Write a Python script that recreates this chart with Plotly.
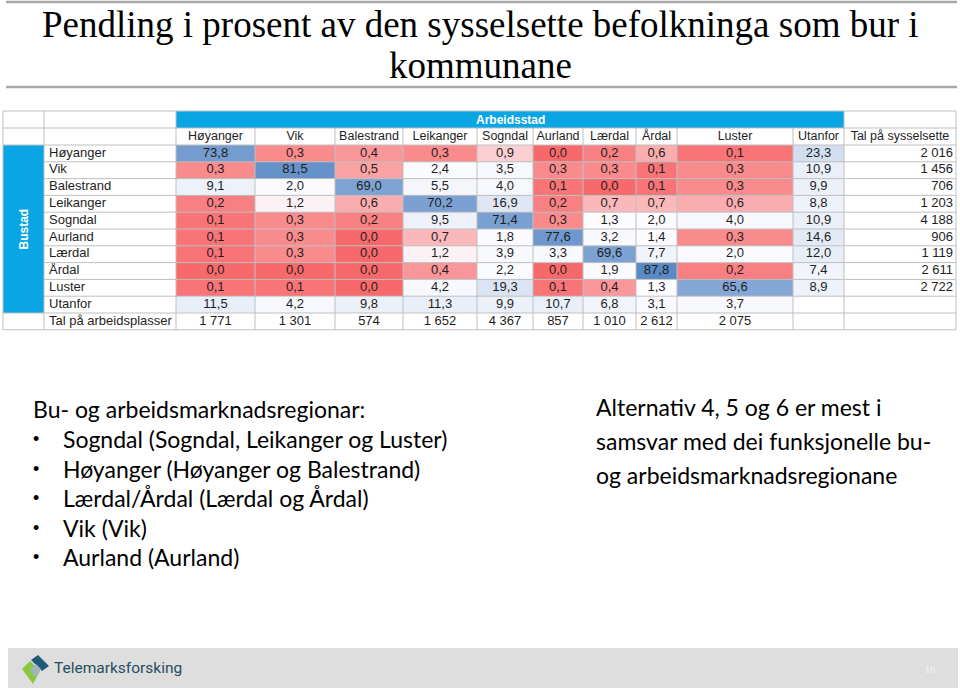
import plotly.graph_objects as go
import numpy as np

# ---------------- data ----------------
arbeidsstad = ["Høyanger", "Vik", "Balestrand", "Leikanger", "Sogndal", "Aurland",
               "Lærdal", "Årdal", "Luster", "Utanfor"]
bustad = ["Høyanger", "Vik", "Balestrand", "Leikanger", "Sogndal", "Aurland",
          "Lærdal", "Årdal", "Luster", "Utanfor"]
row_hoyanger = [73.8, 0.3, 0.4, 0.3, 0.9, 0.0, 0.2, 0.6, 0.1, 23.3]
row_vik = [0.3, 81.5, 0.5, 2.4, 3.5, 0.3, 0.3, 0.1, 0.3, 10.9]
row_balestrand = [9.1, 2.0, 69.0, 5.5, 4.0, 0.1, 0.0, 0.1, 0.3, 9.9]
row_leikanger = [0.2, 1.2, 0.6, 70.2, 16.9, 0.2, 0.7, 0.7, 0.6, 8.8]
row_sogndal = [0.1, 0.3, 0.2, 9.5, 71.4, 0.3, 1.3, 2.0, 4.0, 10.9]
row_aurland = [0.1, 0.3, 0.0, 0.7, 1.8, 77.6, 3.2, 1.4, 0.3, 14.6]
row_laerdal = [0.1, 0.3, 0.0, 1.2, 3.9, 3.3, 69.6, 7.7, 2.0, 12.0]
row_ardal = [0.0, 0.0, 0.0, 0.4, 2.2, 0.0, 1.9, 87.8, 0.2, 7.4]
row_luster = [0.1, 0.1, 0.0, 4.2, 19.3, 0.1, 0.4, 1.3, 65.6, 8.9]
row_utanfor = [11.5, 4.2, 9.8, 11.3, 9.9, 10.7, 6.8, 3.1, 3.7, None]
tal_sysselsette = [2016, 1456, 706, 1203, 4188, 906, 1119, 2611, 2722]
tal_arbeidsplassar = [1771, 1301, 574, 1652, 4367, 857, 1010, 2612, 2075]

pendling = [row_hoyanger, row_vik, row_balestrand, row_leikanger, row_sogndal,
            row_aurland, row_laerdal, row_ardal, row_luster, row_utanfor]

# ---------------- layout (pixel grid of the slide) ----------------
col_edges = [3, 44, 176, 255, 335, 403, 477, 533, 583, 636, 677, 793, 844, 956]
row_top = [111, 128]
row_h = 16.8
row_edges = row_top + [145 + i * row_h for i in range(12)]

BLUE_HDR = "#0AA5E4"
GRID = "#BFBFBF"
TXT = "#1E1E1E"
TFONT = "Liberation Sans, Arial, sans-serif"
BODY = "Lato, Calibri, sans-serif"


def fmt_pct(v):
    return "" if v is None else f"{v:.1f}".replace(".", ",")


def fmt_int(n):
    return f"{n:,}".replace(",", " ")


z = np.array([[np.nan if v is None else v for v in r] for r in pendling], dtype=float)
vals = z[~np.isnan(z)]
zmin, zmax, zmid = vals.min(), vals.max(), np.percentile(vals, 50)
midpos = (zmid - zmin) / (zmax - zmin)

fig = go.Figure()

# heat cells
fig.add_trace(go.Heatmap(
    z=z, x=col_edges[2:13], y=row_edges[2:13],
    colorscale=[[0, "#F8696B"], [midpos, "#FCFCFF"], [1, "#5A8AC6"]],
    zmin=zmin, zmax=zmax, showscale=False, hoverinfo="skip"))

xc = [(col_edges[i] + col_edges[i + 1]) / 2 for i in range(len(col_edges) - 1)]
yc = [(row_edges[i] + row_edges[i + 1]) / 2 for i in range(len(row_edges) - 1)]

# cell values
tx, ty, tt = [], [], []
for i, r in enumerate(pendling):
    for j, v in enumerate(r):
        if v is not None:
            tx.append(xc[2 + j]); ty.append(yc[2 + i]); tt.append(fmt_pct(v))
for j, n in enumerate(tal_arbeidsplassar):
    tx.append(xc[2 + j]); ty.append(yc[12]); tt.append(fmt_int(n))
fig.add_trace(go.Scatter(x=tx, y=ty, text=tt, mode="text", textposition="middle center",
                         textfont=dict(family=TFONT, size=13, color=TXT),
                         hoverinfo="skip", showlegend=False))
# column headers
hx = [xc[2 + j] for j in range(len(arbeidsstad))] + [xc[12]]
ht = arbeidsstad + ["Tal på sysselsette"]
fig.add_trace(go.Scatter(x=hx, y=[yc[1]] * len(hx), text=ht, mode="text",
                         textposition="middle center",
                         textfont=dict(family=TFONT, size=12.5, color=TXT),
                         hoverinfo="skip", showlegend=False))

# Tal på sysselsette (right aligned)
fig.add_trace(go.Scatter(x=[col_edges[13] - 3] * len(tal_sysselsette),
                         y=[yc[2 + i] for i in range(len(tal_sysselsette))],
                         text=[fmt_int(n) for n in tal_sysselsette], mode="text",
                         textposition="middle left",
                         textfont=dict(family=TFONT, size=13, color=TXT),
                         hoverinfo="skip", showlegend=False))

# row labels
labels = bustad + ["Tal på arbeidsplasser"]
fig.add_trace(go.Scatter(x=[col_edges[1] + 5] * len(labels),
                         y=[yc[2 + i] for i in range(len(labels))],
                         text=labels, mode="text", textposition="middle right",
                         textfont=dict(family=TFONT, size=13, color=TXT),
                         hoverinfo="skip", showlegend=False))

shapes = []
# blue header blocks
shapes.append(dict(type="rect", x0=col_edges[2], x1=col_edges[12], y0=row_edges[0], y1=row_edges[1],
                   fillcolor=BLUE_HDR, line=dict(width=0), layer="below"))
shapes.append(dict(type="rect", x0=col_edges[0], x1=col_edges[1], y0=row_edges[2], y1=row_edges[12],
                   fillcolor=BLUE_HDR, line=dict(width=0), layer="below"))
# grid lines
for k, y in enumerate(row_edges):
    x0 = col_edges[1] if 3 <= k <= 11 else col_edges[0]
    shapes.append(dict(type="line", x0=x0, x1=col_edges[-1], y0=y, y1=y,
                       line=dict(color=GRID, width=1), layer="above"))
for k, x in enumerate(col_edges):
    y0 = row_edges[0] if k in (0, 1, 2, 12, 13) else row_edges[1]
    shapes.append(dict(type="line", x0=x, x1=x, y0=y0, y1=row_edges[-1],
                       line=dict(color=GRID, width=1), layer="above"))

# title separators
for y in (2, 87):
    shapes.append(dict(type="line", x0=6, x1=957, y0=y, y1=y,
                       line=dict(color="#A8A8A8", width=2.5)))
# footer band
shapes.append(dict(type="rect", x0=8, x1=958, y0=648, y1=688, fillcolor="#DEDEDE",
                   line=dict(width=0), layer="below"))
# logo
shapes.append(dict(type="path", path="M 22 669 L 30 661 L 40 671 L 33 684 Z",
                   fillcolor="#8DC63F", line=dict(width=0)))
shapes.append(dict(type="path", path="M 31 660 L 38 655 L 49 666 L 42 671 Z",
                   fillcolor="#1F5A7A", line=dict(width=0)))
shapes.append(dict(type="path", path="M 30 669 L 36 664 L 41 669 L 35 678 Z",
                   fillcolor="#9FB4BF", line=dict(width=0)))

ann = []
ann.append(dict(x=(col_edges[2] + col_edges[12]) / 2, y=yc[0], text="<b>Arbeidsstad</b>",
                showarrow=False, font=dict(family=TFONT, size=12, color="white")))
ann.append(dict(x=(col_edges[0] + col_edges[1]) / 2, y=(row_edges[2] + row_edges[12]) / 2,
                text="<b>Bustad</b>", textangle=-90, showarrow=False,
                font=dict(family=TFONT, size=12, color="white")))
# title
ann.append(dict(x=480, y=24, text="Pendling i prosent av den sysselsette befolkninga som bur i",
                showarrow=False, font=dict(family="Liberation Serif, serif", size=37, color="black")))
ann.append(dict(x=480, y=65, text="kommunane", showarrow=False,
                font=dict(family="Liberation Serif, serif", size=37, color="black")))
# left body text
ann.append(dict(x=31, y=409, text="Bu- og arbeidsmarknadsregionar:", xanchor="left", showarrow=False,
                font=dict(family=BODY, size=23, color="black")))
bullets = ["Sogndal (Sogndal, Leikanger og Luster)", "Høyanger (Høyanger og Balestrand)",
           "Lærdal/Årdal (Lærdal og Årdal)", "Vik (Vik)", "Aurland (Aurland)"]
for i, b in enumerate(bullets):
    yy = 439 + i * 29.6
    ann.append(dict(x=31, y=yy, text="•", xanchor="left", showarrow=False,
                    font=dict(family="Arial, sans-serif", size=18, color="black")))
    ann.append(dict(x=61, y=yy, text=b, xanchor="left", showarrow=False,
                    font=dict(family=BODY, size=23, color="black")))
# right body text
right_lines = ["Alternativ 4, 5 og 6 er mest i", "samsvar med dei funksjonelle bu-",
               "og arbeidsmarknadsregionane"]
for i, t in enumerate(right_lines):
    ann.append(dict(x=594, y=407 + i * 34, text=t, xanchor="left", showarrow=False,
                    font=dict(family=BODY, size=23, color="black")))
# footer text
ann.append(dict(x=52, y=668, text="Telemarksforsking", xanchor="left", showarrow=False,
                font=dict(family="Roboto, sans-serif", size=15.5, color="#1F4E62")))
ann.append(dict(x=930, y=669, text="16", showarrow=False,
                font=dict(family="Liberation Serif, serif", size=10, color="#F4F4F4")))
for a in ann:
    a.setdefault("xref", "x"); a.setdefault("yref", "y")

fig.update_layout(
    width=960, height=690, autosize=False,
    margin=dict(l=0, r=0, t=0, b=0),
    paper_bgcolor="white", plot_bgcolor="white",
    xaxis=dict(range=[0, 960], visible=False, fixedrange=True),
    yaxis=dict(range=[690, 0], visible=False, fixedrange=True),
    shapes=shapes, annotations=ann, showlegend=False, hovermode=False,
)

fig.write_html("out.html", config={"displayModeBar": False},
               post_script="document.body.style.margin='0';document.body.style.overflow='hidden';")
